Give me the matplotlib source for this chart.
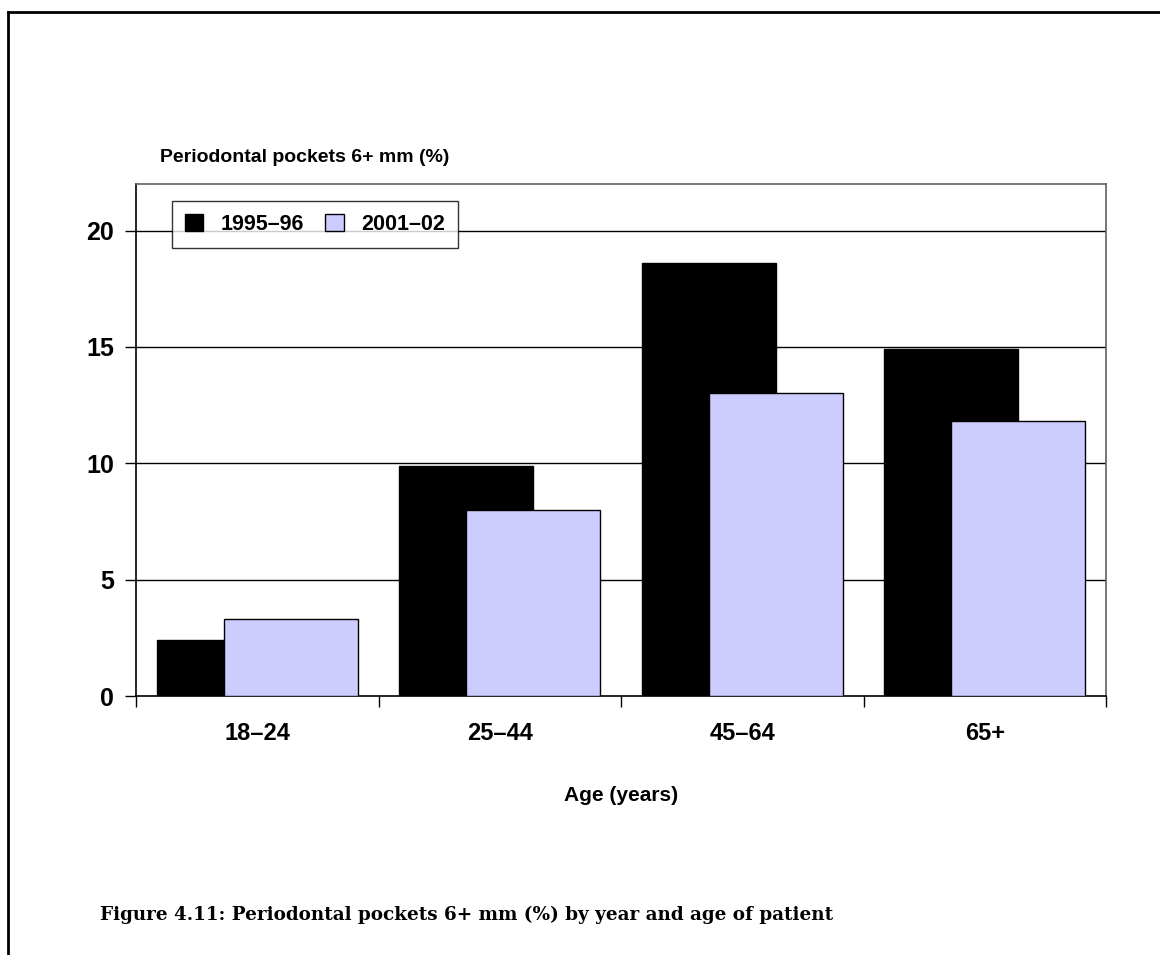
import matplotlib
matplotlib.use("Agg")
import matplotlib.pyplot as plt
from matplotlib.lines import Line2D
from matplotlib.patches import Patch
import numpy as np

# Data
age_groups = ["18–24", "25–44", "45–64", "65+"]
series_names = ["1995–96", "2001–02"]
values_1995 = [2.4, 9.9, 18.6, 14.9]
values_2001 = [3.3, 8.0, 13.0, 11.8]
y_ticks = [0, 5, 10, 15, 20]

plt.rcParams["font.family"] = ["Liberation Sans", "DejaVu Sans"]

W, H, DPI = 1160, 955, 100
fig = plt.figure(figsize=(W / DPI, H / DPI), dpi=DPI)

# Plot area in pixel coordinates
left, right, top, bottom = 136, 1106, 184, 696
ax = fig.add_axes([left / W, (H - bottom) / H, (right - left) / W, (bottom - top) / H])

x = np.arange(len(age_groups))
bw = 0.553
ax.bar(x - bw / 4, values_1995, width=bw, color="black", edgecolor="black",
       linewidth=1, zorder=3)
ax.bar(x + bw / 4, values_2001, width=bw, color="#CCCCFF", edgecolor="black",
       linewidth=1, zorder=4)

ax.set_xlim(-0.5, len(age_groups) - 0.5)
ax.set_ylim(0, 22)

# Gridlines
for v in y_ticks[1:]:
    ax.axhline(v, color="black", linewidth=1, zorder=1)

ax.set_yticks(y_ticks)
ax.set_yticklabels([str(v) for v in y_ticks], fontsize=18, fontweight="bold")
ax.tick_params(axis="y", direction="out", length=8, width=1, pad=8)

ax.set_xticks(x)
ax.set_xticklabels(age_groups, fontsize=17, fontweight="bold")
ax.tick_params(axis="x", which="major", length=0, pad=19)
ax.set_xticks(np.arange(len(age_groups) + 1) - 0.5, minor=True)
ax.tick_params(axis="x", which="minor", direction="out", length=8, width=1)

for side in ("top", "right"):
    ax.spines[side].set_color("#606060")
    ax.spines[side].set_linewidth(1.2)
for side in ("left", "bottom"):
    ax.spines[side].set_color("black")
    ax.spines[side].set_linewidth(1.2)

# Legend
handles = [Patch(facecolor="black", edgecolor="black", linewidth=1),
           Patch(facecolor="#CCCCFF", edgecolor="black", linewidth=1)]
leg = ax.legend(handles, series_names, ncol=2, loc="upper left",
                bbox_to_anchor=((172 - left) / (right - left), (bottom - 201) / (bottom - top)),
                frameon=True, fancybox=False, shadow=False, borderaxespad=0,
                prop={"weight": "bold", "size": 15.5}, handlelength=0.85,
                handleheight=0.85, handletextpad=0.8, columnspacing=1.0,
                borderpad=0.6)
leg.get_frame().set_edgecolor("black")
leg.get_frame().set_linewidth(1)
leg.set_zorder(6)

# Axis titles
fig.text(160 / W, 1 - 157 / H, "Periodontal pockets 6+ mm (%)", fontsize=14,
         fontweight="bold", ha="left", va="center")
fig.text((left + right) / 2 / W, 1 - 795 / H, "Age (years)", fontsize=15,
         fontweight="bold", ha="center", va="center")

# Caption
fig.text(100 / W, 1 - 915 / H, "Figure 4.11: Periodontal pockets 6+ mm (%) by year and age of patient",
         fontsize=13.2, fontweight="bold", ha="left", va="center",
         family=["DejaVu Serif", "Liberation Serif"])

# Page frame (left and top edges)
fig.add_artist(Line2D([8 / W, 8 / W], [0, 1 - 12 / H], transform=fig.transFigure,
                      color="black", linewidth=2))
fig.add_artist(Line2D([8 / W, 1], [1 - 12 / H, 1 - 12 / H], transform=fig.transFigure,
                      color="black", linewidth=2))

fig.savefig("out.png", dpi=DPI)
